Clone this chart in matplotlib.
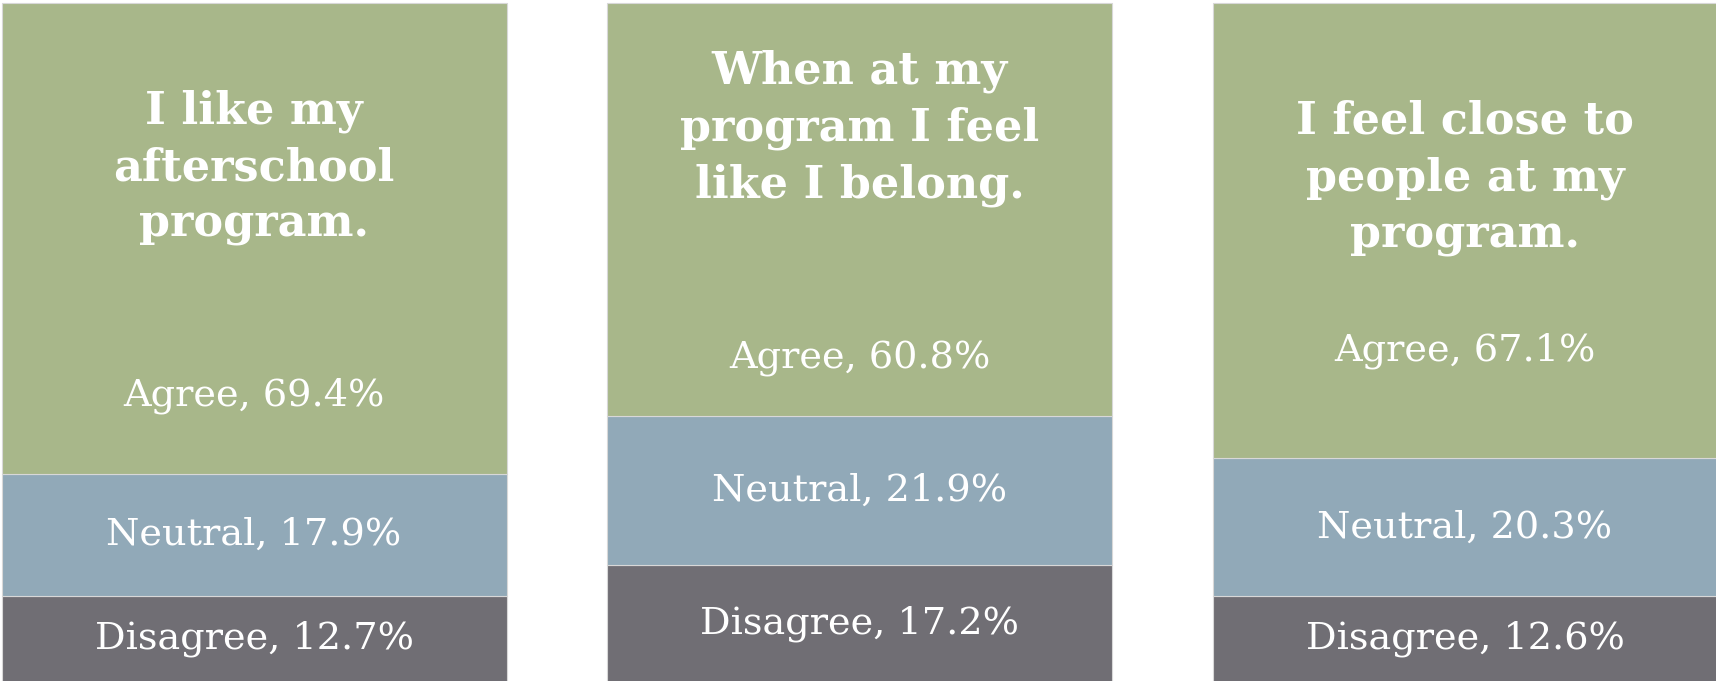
import matplotlib
matplotlib.use("Agg")
import matplotlib.pyplot as plt
import numpy as np

questions = ["I like my\nafterschool\nprogram.",
             "When at my\nprogram I feel\nlike I belong.",
             "I feel close to\npeople at my\nprogram."]
categories = ["Disagree", "Neutral", "Agree"]
disagree = [12.7, 17.2, 12.6]
neutral = [17.9, 21.9, 20.3]
agree = [69.4, 60.8, 67.1]

colors = {"Disagree": "#706e74", "Neutral": "#91a9b8", "Agree": "#a8b78a"}

# layout (text heights in data units)
agree_label_y = [42.1, 47.6, 48.8]
title_y = [75.7, 81.5, 74.1]

fig = plt.figure(figsize=(17.16, 6.81), dpi=100)
ax = fig.add_axes([0, 0, 1, 1])
x = np.arange(len(questions))
width = 0.834
series = {"Disagree": disagree, "Neutral": neutral, "Agree": agree}
bottom = np.zeros(len(questions))
font = "DejaVu Serif"
for cat in categories:
    vals = np.array(series[cat])
    ax.bar(x, vals, width, bottom=bottom, color=colors[cat],
           edgecolor="#d8d8d8", linewidth=0.8)
    for i, v in enumerate(vals):
        if cat == "Agree":
            yy = agree_label_y[i]
        else:
            yy = bottom[i] + v / 2
        ax.text(x[i], yy, f"{cat}, {v:.1f}%", ha="center", va="center",
                color="white", fontsize=27.5, family=font)
    bottom += vals

for i, q in enumerate(questions):
    ax.text(x[i], title_y[i], q, ha="center", va="center", color="white",
            fontsize=32, fontweight="bold", family=font, linespacing=1.4)

ax.set_xlim(-0.4195, 2.4145)
ax.set_ylim(0.15, 100.37)
ax.axis("off")
fig.savefig("out.png", dpi=100)
